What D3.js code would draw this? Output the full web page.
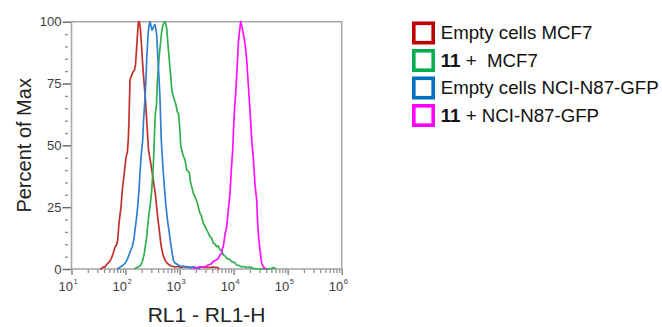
<!DOCTYPE html>
<html>
<head>
<meta charset="utf-8">
<script src="https://cdn.jsdelivr.net/npm/d3@7"></script>
<style>
  html, body { margin: 0; padding: 0; background: #fff; }
  svg { display: block; }
</style>
</head>
<body>
<svg id="chart" width="662" height="327"></svg>
<script>
// ---- data: [log10(RL1-H), percent of max] ----
const emptyMCF7 = [
  [1.527,0],[1.559,0.2],[1.583,0.8],[1.611,0.6],[1.638,1.4],[1.675,2.4],[1.712,3.2],[1.740,4.4],
  [1.773,6.5],[1.805,8.9],[1.833,9.7],[1.855,11.7],[1.879,18.6],[1.916,25.1],[1.940,31.9],[1.977,38.8],
  [2.003,44.1],[2.018,46.1],[2.033,46.9],[2.051,52.2],[2.064,60.3],[2.073,68.3],[2.083,76.4],[2.101,77.6],
  [2.138,79.7],[2.166,80.5],[2.184,82.5],[2.203,88.6],[2.221,94.6],[2.236,99.7],[2.255,100],[2.277,96.6],
  [2.295,90.6],[2.314,83.7],[2.342,75.6],[2.369,68.3],[2.397,58.2],[2.425,48.1],[2.462,43.3],[2.508,36.8],
  [2.554,29.9],[2.591,21.8],[2.628,15.0],[2.656,9.7],[2.693,5.7],[2.739,3.2],[2.786,2.0],[2.841,1.2],
  [2.915,0.8],[2.971,1.0],[3.026,0.6],[3.100,1.0],[3.174,0.6],[3.248,0.8],[3.341,0.5],[3.433,0.9],
  [3.526,0.6],[3.618,0.8],[3.711,0.6],[3.729,0]
];
const c11MCF7 = [
  [2.162,0],[2.193,0.4],[2.236,0.9],[2.268,1.2],[2.299,2.3],[2.323,4.0],[2.347,6.3],[2.369,9.7],
  [2.392,13.1],[2.406,16.6],[2.421,19.8],[2.438,23.0],[2.453,25.2],[2.471,28.7],[2.484,31.9],[2.499,36.8],
  [2.514,41.4],[2.532,52.2],[2.545,60.3],[2.554,63.5],[2.573,66.3],[2.588,75.6],[2.606,81.3],[2.625,86.5],
  [2.647,91.4],[2.669,96.0],[2.693,98.7],[2.712,99.5],[2.730,100],[2.749,98.7],[2.761,97.3],[2.776,93.4],
  [2.791,89.2],[2.807,85.3],[2.822,81.2],[2.840,77.2],[2.853,73.1],[2.877,70.4],[2.915,67.6],[2.938,65.9],
  [2.958,63.6],[2.980,62.9],[2.999,58.2],[3.021,50.1],[3.039,48.1],[3.063,46.1],[3.100,44.1],[3.132,40.0],
  [3.156,39.6],[3.180,38.8],[3.202,35.2],[3.224,33.3],[3.254,30.7],[3.285,29.2],[3.317,27.5],[3.346,25.2],
  [3.378,22.5],[3.405,21.4],[3.438,18.5],[3.470,17.4],[3.500,15.8],[3.530,14.6],[3.561,13.1],[3.593,12.5],
  [3.624,10.4],[3.655,10.1],[3.687,9.0],[3.717,9.3],[3.748,7.7],[3.779,7.3],[3.809,5.7],[3.841,5.3],
  [3.872,4.3],[3.915,4.0],[3.964,3.0],[4.007,2.8],[4.057,1.6],[4.100,1.4],[4.150,0.8],[4.192,1.0],
  [4.248,0.6],[4.303,0.8],[4.364,0.3],[4.414,0],[4.673,0],[4.734,0.6],[4.784,0]
];
const emptyN87 = [
  [1.842,0],[1.866,0.2],[1.897,0.8],[1.934,1.2],[1.990,2.3],[2.027,3.6],[2.051,5.0],[2.092,7.3],
  [2.126,9.0],[2.157,12.5],[2.175,15.8],[2.203,20.6],[2.225,25.2],[2.249,31.9],[2.268,38.8],[2.290,46.1],
  [2.318,52.2],[2.332,59.6],[2.360,69.1],[2.379,77.2],[2.392,85.3],[2.406,90.6],[2.421,96.0],[2.439,99.1],
  [2.453,100],[2.471,98.3],[2.490,96.6],[2.517,97.9],[2.545,98.9],[2.564,96.6],[2.577,94.6],[2.591,88.6],
  [2.606,82.5],[2.623,75.6],[2.637,69.1],[2.650,60.2],[2.661,52.2],[2.678,46.1],[2.699,38.8],[2.723,31.9],
  [2.749,25.2],[2.776,19.8],[2.810,14.6],[2.832,10.9],[2.854,7.7],[2.884,3.6],[2.915,2.4],[2.947,2.0],
  [2.989,1.4],[3.026,1.0],[3.068,1.2],[3.119,0.6],[3.156,1.0],[3.211,0.4],[3.267,0.8],[3.322,0.4],[3.378,0]
];
const c11N87 = [
  [3.254,0],[3.304,0.4],[3.378,0.9],[3.452,0.6],[3.532,1.6],[3.581,2.0],[3.624,3.0],[3.674,3.6],
  [3.717,4.3],[3.748,5.7],[3.779,6.3],[3.794,8.5],[3.809,9.0],[3.831,12.5],[3.850,15.0],[3.872,17.1],
  [3.902,23.9],[3.933,30.6],[3.957,40.0],[3.983,48.1],[3.998,56.2],[4.016,64.3],[4.038,71.0],[4.057,78.4],
  [4.072,84.5],[4.087,91.3],[4.105,95.4],[4.131,100],[4.155,97.9],[4.179,95.0],[4.201,92.6],[4.220,89.4],
  [4.242,84.5],[4.266,76.4],[4.303,64.3],[4.335,52.2],[4.364,44.9],[4.396,34.0],[4.427,27.9],[4.442,19.8],
  [4.457,14.4],[4.473,10.5],[4.488,7.7],[4.507,4.4],[4.520,2.3],[4.549,0.9],[4.581,0.3],[4.608,0]
];
const seriesNames = ["Empty cells MCF7", "11 +  MCF7", "Empty cells NCI-N87-GFP", "11 + NCI-N87-GFP"];
const lineColors = ["#c3302a", "#30b04c", "#2f7fd3", "#ff10ff"];
const legendColors = ["#c00000", "#00b050", "#0070c0", "#ff00ff"];
const yTicks = [0, 25, 50, 75, 100];
const xDecades = [1, 2, 3, 4, 5, 6];
const xTitle = "RL1 - RL1-H";
const yTitle = "Percent of Max";

// ---- layout ----
const L = 71.5, R = 341.7, T = 21.7, B = 269;
const svg = d3.select("#chart");
const x = d3.scaleLog().domain([10, 1e6]).range([L, R]);
const y = d3.scaleLinear().domain([0, 100]).range([B, T]);
const labelColor = "#3c3c3c";
const font = "'Liberation Sans', Arial, sans-serif";

// y minor ticks
const yMinor = d3.range(0, 101, 5).filter(v => v % 25 !== 0);
const gyMinor = svg.append("g").attr("transform", `translate(${L - 3.5},0)`)
  .call(d3.axisLeft(y).tickValues(yMinor).tickSize(3).tickFormat(""));
gyMinor.select(".domain").remove();
gyMinor.selectAll("line").attr("stroke", "#8a8a8a").attr("stroke-width", 1.3);

// y major ticks + labels
const gy = svg.append("g").attr("transform", `translate(${L},0)`)
  .call(d3.axisLeft(y).tickValues(yTicks).tickSize(9).tickPadding(1));
gy.select(".domain").remove();
gy.selectAll("line").attr("stroke", "#666").attr("stroke-width", 1.4);
gy.selectAll("text").attr("fill", labelColor).style("font-family", font).style("font-size", "13px");

// x minor ticks
const xMinor = [];
xDecades.slice(0, -1).forEach(d => { for (let k = 2; k <= 9; k++) xMinor.push(k * Math.pow(10, d)); });
const gxMinor = svg.append("g").attr("transform", `translate(0,${B})`)
  .call(d3.axisBottom(x).tickValues(xMinor).tickSize(4).tickFormat(""));
gxMinor.select(".domain").remove();
gxMinor.selectAll("line").attr("stroke", "#8a8a8a").attr("stroke-width", 1.2);

// x major ticks
const gx = svg.append("g").attr("transform", `translate(0,${B})`)
  .call(d3.axisBottom(x).tickValues(xDecades.map(d => Math.pow(10, d))).tickSize(6).tickFormat(""));
gx.select(".domain").remove();
gx.selectAll("line").attr("stroke", "#7a7a7a").attr("stroke-width", 1.3);

// x labels 10^n
const xl = svg.append("g");
xDecades.forEach(d => {
  const px = x(Math.pow(10, d));
  xl.append("text").attr("x", px + 1.5).attr("y", 291).attr("text-anchor", "end")
    .attr("fill", labelColor).style("font-family", font).style("font-size", "13px").text("10");
  xl.append("text").attr("x", px + 2).attr("y", 284).attr("text-anchor", "start")
    .attr("fill", labelColor).style("font-family", font).style("font-size", "7.5px").text(d);
});

// frame
svg.append("rect").attr("x", L).attr("y", T).attr("width", R - L).attr("height", B - T)
  .attr("fill", "none").attr("stroke", "#a8a8a8").attr("stroke-width", 1.6);

// curves
const line = d3.line().x(d => x(Math.pow(10, d[0]))).y(d => y(d[1]));
[emptyMCF7, c11MCF7, emptyN87, c11N87].forEach((s, i) => {
  svg.append("path").datum(s).attr("d", line).attr("fill", "none")
    .attr("stroke", lineColors[i]).attr("stroke-width", 1.7).attr("stroke-linejoin", "round");
});

// titles
svg.append("text").attr("x", (L + R) / 2).attr("y", 322).attr("text-anchor", "middle")
  .attr("fill", "#222").style("font-family", font).style("font-size", "21px").text(xTitle);
svg.append("text").attr("transform", `translate(31,${(T + B) / 2}) rotate(-90)`).attr("text-anchor", "middle")
  .attr("fill", "#222").style("font-family", font).style("font-size", "20px").text(yTitle);

// legend
const lg = svg.append("g");
seriesNames.forEach((name, i) => {
  const cy = 33 + i * 27.5;
  lg.append("rect").attr("x", 413.8).attr("y", cy - 9.7).attr("width", 19.4).attr("height", 19.4)
    .attr("fill", "#fff").attr("stroke", legendColors[i]).attr("stroke-width", 3.6);
  const t = lg.append("text").attr("x", 440.7).attr("y", cy + 6).attr("fill", "#111")
    .style("font-family", font).style("font-size", "18.7px");
  if (name.startsWith("11")) {
    t.append("tspan").attr("font-weight", "bold").text("11");
    t.append("tspan").style("white-space", "pre").text(name.slice(2));
  } else {
    t.text(name);
  }
});
</script>
</body>
</html>
